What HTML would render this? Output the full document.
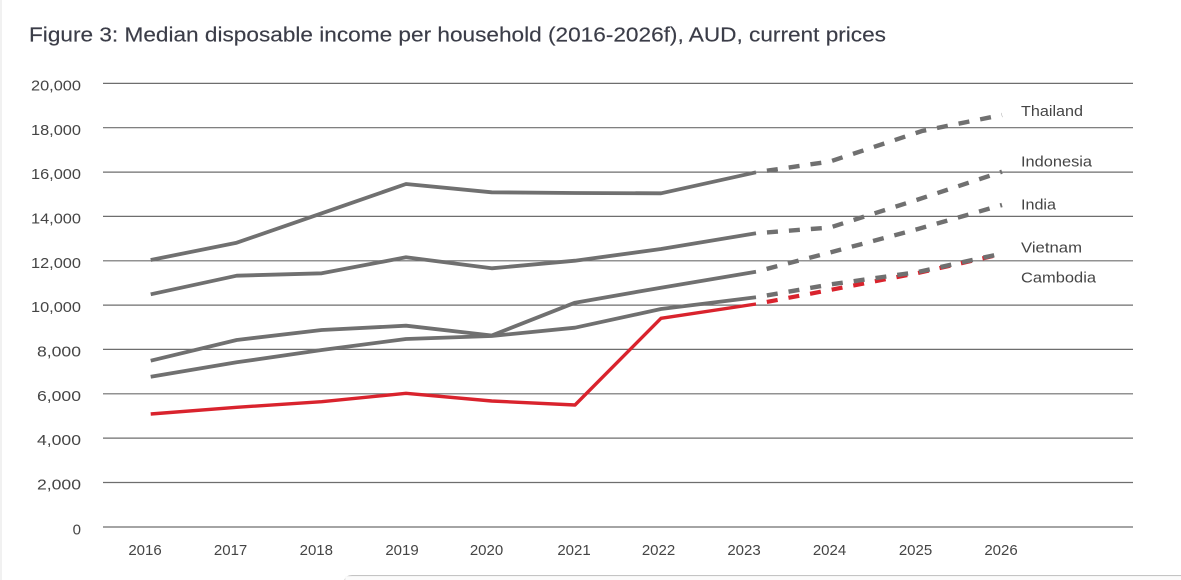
<!DOCTYPE html>
<html>
<head>
<meta charset="utf-8">
<style>
  html, body { margin: 0; padding: 0; background: #ffffff; }
  body { width: 1181px; height: 580px; overflow: hidden; }
  svg { display: block; }
  text { font-family: "Liberation Sans", "DejaVu Sans", sans-serif; }
</style>
</head>
<body>
<svg width="1181" height="580" viewBox="0 0 1181 580" xmlns="http://www.w3.org/2000/svg">
  <rect x="0" y="0" width="1181" height="580" fill="#ffffff"/>
  <rect x="0" y="0" width="2" height="580" fill="#f1f1f1"/>

  <!-- Title -->
  <text x="29" y="41.5" font-size="20" fill="#3b3d48" stroke="#3b3d48" stroke-width="0.15" textLength="857" lengthAdjust="spacingAndGlyphs">Figure 3: Median disposable income per household (2016-2026f), AUD, current prices</text>

  <!-- Gridlines -->
  <g stroke="#6e6e6e" stroke-width="1.2">
    <line x1="103" y1="83.4" x2="1133" y2="83.4"/>
    <line x1="103" y1="127.7" x2="1133" y2="127.7"/>
    <line x1="103" y1="172.1" x2="1133" y2="172.1"/>
    <line x1="103" y1="216.4" x2="1133" y2="216.4"/>
    <line x1="103" y1="260.8" x2="1133" y2="260.8"/>
    <line x1="103" y1="305.1" x2="1133" y2="305.1"/>
    <line x1="103" y1="349.4" x2="1133" y2="349.4"/>
    <line x1="103" y1="393.8" x2="1133" y2="393.8"/>
    <line x1="103" y1="438.1" x2="1133" y2="438.1"/>
    <line x1="103" y1="482.5" x2="1133" y2="482.5"/>
    <line x1="103" y1="527" x2="1133" y2="527"/>
  </g>

  <!-- Y axis labels -->
  <g font-size="15" fill="#454545" text-anchor="end">
    <text x="81" y="90.5" textLength="50" lengthAdjust="spacingAndGlyphs">20,000</text>
    <text x="81" y="134.8" textLength="50" lengthAdjust="spacingAndGlyphs">18,000</text>
    <text x="81" y="179.2" textLength="50" lengthAdjust="spacingAndGlyphs">16,000</text>
    <text x="81" y="223.5" textLength="50" lengthAdjust="spacingAndGlyphs">14,000</text>
    <text x="81" y="267.9" textLength="50" lengthAdjust="spacingAndGlyphs">12,000</text>
    <text x="81" y="312.2" textLength="50" lengthAdjust="spacingAndGlyphs">10,000</text>
    <text x="81" y="356.5" textLength="44" lengthAdjust="spacingAndGlyphs">8,000</text>
    <text x="81" y="400.9" textLength="44" lengthAdjust="spacingAndGlyphs">6,000</text>
    <text x="81" y="445.2" textLength="44" lengthAdjust="spacingAndGlyphs">4,000</text>
    <text x="81" y="489.6" textLength="44" lengthAdjust="spacingAndGlyphs">2,000</text>
    <text x="81" y="534.5">0</text>
  </g>

  <!-- X axis labels -->
  <g font-size="15" fill="#454545" text-anchor="middle">
    <text x="145" y="555">2016</text>
    <text x="230.6" y="555">2017</text>
    <text x="316.3" y="555">2018</text>
    <text x="402" y="555">2019</text>
    <text x="486.5" y="555">2020</text>
    <text x="574" y="555">2021</text>
    <text x="658.5" y="555">2022</text>
    <text x="744" y="555">2023</text>
    <text x="829.5" y="555">2024</text>
    <text x="915.5" y="555">2025</text>
    <text x="1001" y="555">2026</text>
  </g>

  <!-- Cambodia (red) -->
  <polyline fill="none" stroke="#d9232d" stroke-width="3.4" stroke-linejoin="round"
    points="150.7,414 236.7,407.3 321.7,401.7 406,393.3 491.7,401 575,405 661,318.3 756,304"/>
  <polyline fill="none" stroke="#d9232d" stroke-width="4.2" stroke-dasharray="11 11" stroke-dashoffset="11"
    points="756,304 830,290 918,273 1002,254"/>

  <!-- Grey series solid -->
  <g fill="none" stroke="#707070" stroke-width="3.8" stroke-linejoin="round">
    <polyline points="150.7,260 236.7,242.7 321.7,213.3 406,184 491.7,192.3 575,193 661,193.3 756,172.3"/>
    <polyline points="150.7,294.3 236.7,275.7 321.7,273.3 406,257.3 491.7,268.3 575,260.7 661,249 756,233.3"/>
    <polyline points="150.7,360.7 236.7,340 321.7,330 406,325.7 491.7,335.5 575,302.7 661,287.7 756,271.7"/>
    <polyline points="150.7,376.7 236.7,362.3 321.7,350 406,339 491.7,336 575,327.7 661,309 756,297.3"/>
  </g>

  <!-- Grey series dashed forecasts -->
  <g fill="none" stroke="#707070" stroke-width="4.4" stroke-dasharray="11 11" stroke-dashoffset="11">
    <polyline points="756,172.3 830,161.5 922,131 1002,115"/>
    <polyline points="756,233.3 830,227.5 918,199.5 1002,171.7"/>
    <polyline points="756,271.7 830,252.5 918,229 1002,205"/>
    <polyline points="756,297.3 830,284.5 918,272 1002,253.5"/>
  </g>

  <!-- Series labels -->
  <g font-size="15" fill="#454545">
    <text x="1021" y="116" textLength="62" lengthAdjust="spacingAndGlyphs">Thailand</text>
    <text x="1021" y="166.7" textLength="71" lengthAdjust="spacingAndGlyphs">Indonesia</text>
    <text x="1021" y="209.3" textLength="35" lengthAdjust="spacingAndGlyphs">India</text>
    <text x="1021" y="252.7" textLength="61" lengthAdjust="spacingAndGlyphs">Vietnam</text>
    <text x="1021" y="282.5" textLength="75" lengthAdjust="spacingAndGlyphs">Cambodia</text>
  </g>

  <!-- Bottom partial panel (clipped at frame edge) -->
  <path d="M344.6,580 L344.6,583 Q344.6,575.6 352,575.6 L1181,575.6" fill="none" stroke="#c4c4c4" stroke-width="1.2"/>
  <rect x="345.2" y="576.2" width="836" height="3.8" fill="#fbfbfb"/>
</svg>
</body>
</html>
